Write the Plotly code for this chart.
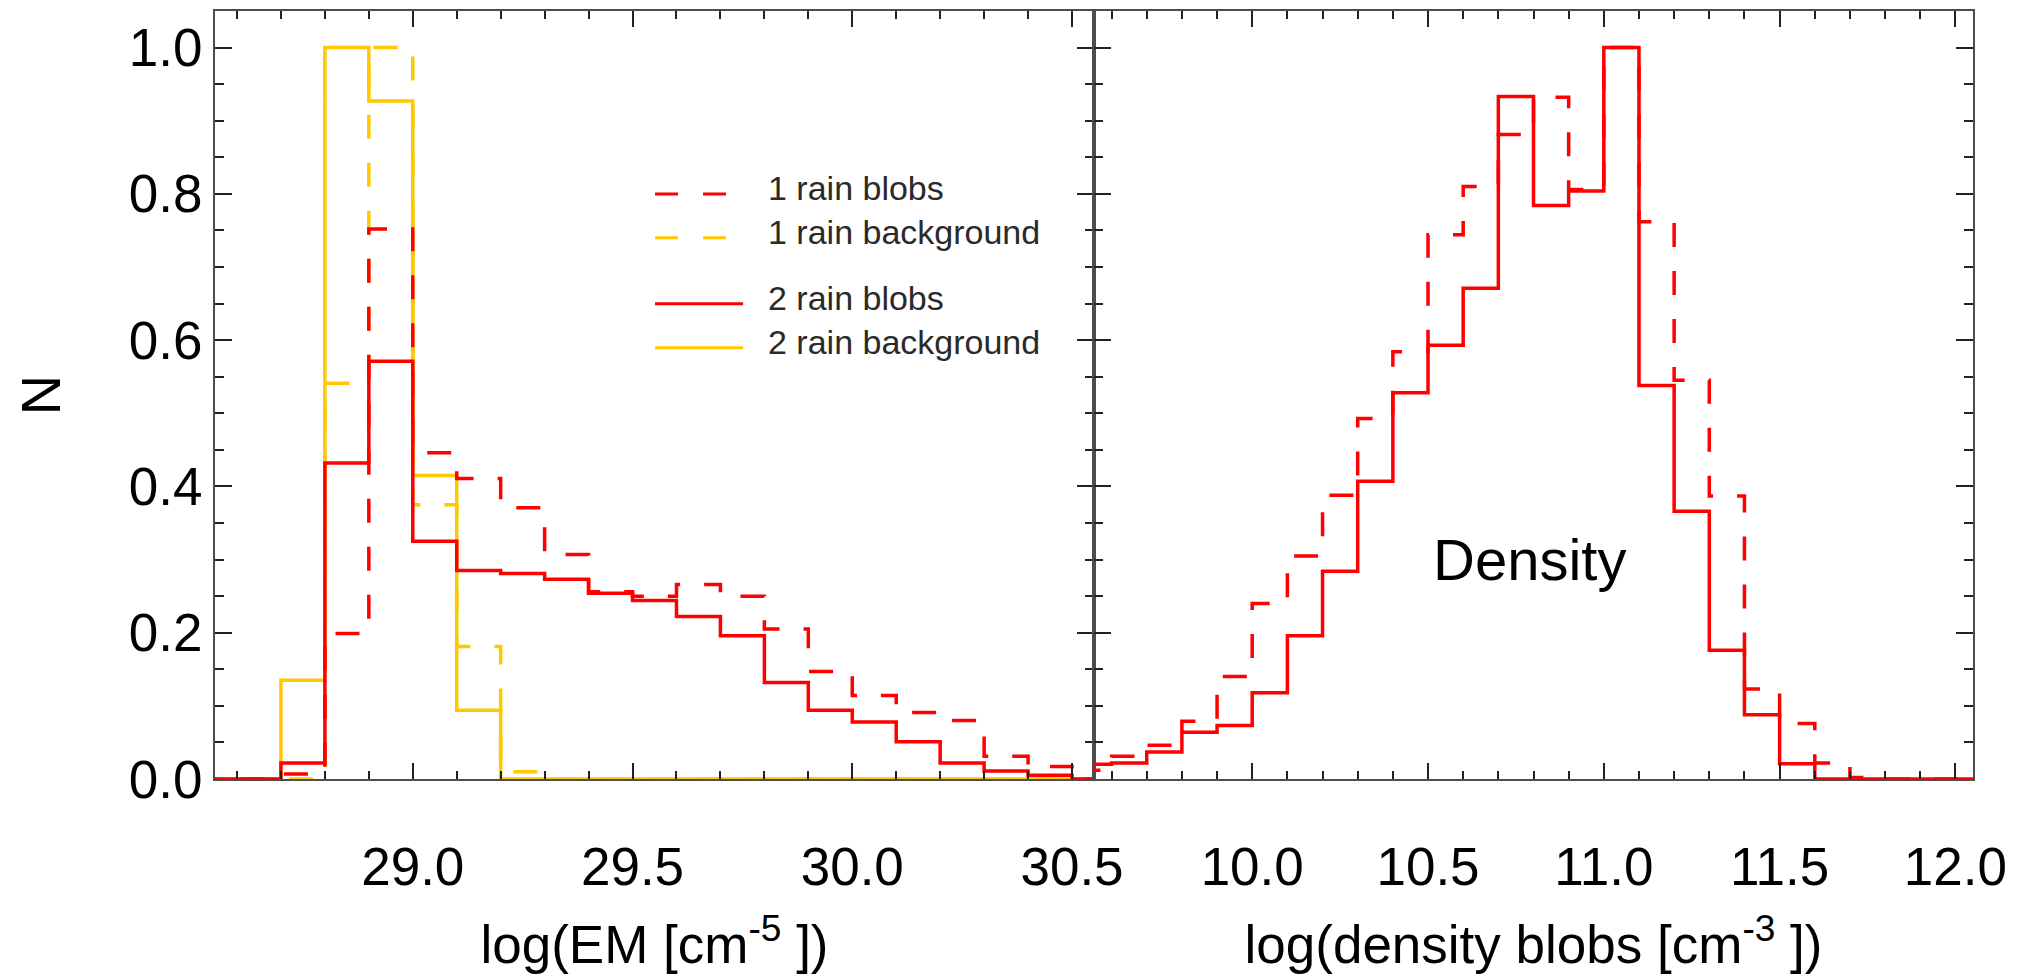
import plotly.graph_objects as go

# ---------------- data ----------------
# left panel: log(EM) histograms, bin edges (0.1 wide)
em_edges = [28.5, 28.6, 28.7, 28.8, 28.9, 29.0, 29.1, 29.2, 29.3, 29.4, 29.5,
            29.6, 29.7, 29.8, 29.9, 30.0, 30.1, 30.2, 30.3, 30.4, 30.5, 30.6]
em_1rain_blobs = [0.0, 0.0, 0.007, 0.199, 0.752, 0.446, 0.411, 0.371, 0.307, 0.256, 0.250,
                  0.266, 0.250, 0.205, 0.147, 0.114, 0.091, 0.080, 0.031, 0.017, 0.0]
em_1rain_bg = [0.0, 0.0, 0.0, 0.541, 1.0, 0.375, 0.181, 0.010, 0.0, 0.0, 0.0,
               0.0, 0.0, 0.0, 0.0, 0.0, 0.0, 0.0, 0.0, 0.0, 0.0]
em_2rain_blobs = [0.0, 0.0, 0.022, 0.432, 0.571, 0.325, 0.285, 0.281, 0.273, 0.254, 0.244,
                  0.222, 0.196, 0.132, 0.094, 0.078, 0.051, 0.022, 0.011, 0.005, 0.0]
em_2rain_bg = [0.0, 0.0, 0.135, 1.0, 0.927, 0.415, 0.094, 0.0, 0.0, 0.0, 0.0,
               0.0, 0.0, 0.0, 0.0, 0.0, 0.0, 0.0, 0.0, 0.0, 0.0]

# right panel: log(density blobs) histograms
dens_edges = [9.5, 9.6, 9.7, 9.8, 9.9, 10.0, 10.1, 10.2, 10.3, 10.4, 10.5, 10.6, 10.7,
              10.8, 10.9, 11.0, 11.1, 11.2, 11.3, 11.4, 11.5, 11.6, 11.7, 11.8, 11.9, 12.0, 12.1]
dens_1rain_blobs = [0.012, 0.031, 0.046, 0.079, 0.140, 0.240, 0.305, 0.388, 0.493, 0.584,
                    0.744, 0.810, 0.881, 0.932, 0.806, 1.0, 0.762, 0.545, 0.387, 0.123,
                    0.076, 0.022, 0.002, 0.0, 0.0, 0.0]
dens_2rain_blobs = [0.020, 0.022, 0.037, 0.064, 0.073, 0.118, 0.196, 0.284, 0.407, 0.528,
                    0.593, 0.671, 0.933, 0.784, 0.804, 1.0, 0.538, 0.366, 0.176, 0.088,
                    0.021, 0.0, 0.0, 0.0, 0.0, 0.0]

labels = ["1 rain blobs", "1 rain background", "2 rain blobs", "2 rain background"]

RED = "#ff0000"
ORANGE = "#ffc800"
LW = 3.5
DASH = "24px,24px"
FONT = "Liberation Sans, Arial, Helvetica, sans-serif"

# legend key styles, in the same order as labels
legend_colors = [RED, ORANGE, RED, ORANGE]
legend_dashes = ["23px,25px", "23px,25px", "solid", "solid"]
# legend row centres in paper fraction (vertical), key/text positions (horizontal)
legend_rows = [0.7618, 0.7046, 0.6187, 0.5615]
legend_key_x = [0.2503, 0.3004]
legend_text_x = 0.3135
legend_text_dy = 0.0075


def step_y(values):
    # last value repeated so the final bin reaches its right edge with shape 'hv'
    return list(values) + [values[-1]]


fig = go.Figure()

# left panel (drawing order: orange below red)
fig.add_trace(go.Scatter(x=em_edges, y=step_y(em_1rain_bg), mode="lines",
                         line=dict(color=ORANGE, width=LW, dash=DASH, shape="hv"),
                         name=labels[1], showlegend=False, xaxis="x", yaxis="y"))
fig.add_trace(go.Scatter(x=em_edges, y=step_y(em_2rain_bg), mode="lines",
                         line=dict(color=ORANGE, width=LW, shape="hv"),
                         name=labels[3], showlegend=False, xaxis="x", yaxis="y"))
fig.add_trace(go.Scatter(x=em_edges, y=step_y(em_1rain_blobs), mode="lines",
                         line=dict(color=RED, width=LW, dash=DASH, shape="hv"),
                         name=labels[0], showlegend=False, xaxis="x", yaxis="y"))
fig.add_trace(go.Scatter(x=em_edges, y=step_y(em_2rain_blobs), mode="lines",
                         line=dict(color=RED, width=LW, shape="hv"),
                         name=labels[2], showlegend=False, xaxis="x", yaxis="y"))

# right panel
fig.add_trace(go.Scatter(x=dens_edges, y=step_y(dens_1rain_blobs), mode="lines",
                         line=dict(color=RED, width=LW, dash=DASH, shape="hv"),
                         name=labels[0], showlegend=False, xaxis="x2", yaxis="y2"))
fig.add_trace(go.Scatter(x=dens_edges, y=step_y(dens_2rain_blobs), mode="lines",
                         line=dict(color=RED, width=LW, shape="hv"),
                         name=labels[2], showlegend=False, xaxis="x2", yaxis="y2"))

# legend drawn as keys + text
shapes = []
annotations = []
for lab, col, dsh, yr in zip(labels, legend_colors, legend_dashes, legend_rows):
    shapes.append(dict(type="line", xref="paper", yref="paper",
                       x0=legend_key_x[0], x1=legend_key_x[1], y0=yr, y1=yr,
                       line=dict(color=col, width=3, dash=dsh)))
    annotations.append(dict(text=lab, xref="paper", yref="paper",
                            x=legend_text_x, y=yr + legend_text_dy,
                            xanchor="left", yanchor="middle", showarrow=False,
                            font=dict(family=FONT, size=34, color="#2a2a2a")))

annotations.append(dict(text="Density", x=10.79, y=0.30, xref="x2", yref="y2",
                        showarrow=False, xanchor="center", yanchor="middle",
                        font=dict(family=FONT, size=58, color="black")))

axis_common = dict(
    showline=True, linecolor="#4d4d4d", linewidth=2, mirror="ticks",
    ticks="inside", tickcolor="#222222", tickwidth=2,
    showgrid=False, zeroline=False,
    tickfont=dict(family=FONT, size=53, color="black"),
)

xcommon = dict(axis_common, ticklen=16, tickformat=".1f", dtick=0.5,
               minor=dict(dtick=0.1, ticks="inside", ticklen=8, tickwidth=2,
                          tickcolor="#222222", showgrid=False),
               ticklabelstandoff=40)
ycommon = dict(axis_common, ticklen=17, tickformat=".1f", dtick=0.2, tick0=0,
               range=[0, 1.05],
               minor=dict(dtick=0.05, ticks="inside", ticklen=9, tickwidth=2,
                          tickcolor="#222222", showgrid=False))

fig.update_layout(
    width=2017, height=974,
    margin=dict(l=215, r=44, t=11, b=195, autoexpand=False),
    paper_bgcolor="white", plot_bgcolor="white",
    font=dict(family=FONT, color="black", size=52),
    showlegend=False,
    xaxis=dict(xcommon, domain=[0, 0.5], range=[28.55, 30.55], tick0=29.0,
               anchor="y",
               title=dict(text="log(EM [cm<sup>-5</sup> ])",
                          font=dict(family=FONT, size=53, color="black"),
                          standoff=34)),
    xaxis2=dict(xcommon, domain=[0.5, 1], range=[9.55, 12.05], tick0=10.0,
                anchor="y2",
                title=dict(text="log(density blobs [cm<sup>-3</sup> ])",
                           font=dict(family=FONT, size=53, color="black"),
                           standoff=34)),
    yaxis=dict(ycommon, anchor="x", domain=[0, 1], ticklabelstandoff=0,
               title=dict(text="N", font=dict(family=FONT, size=56, color="black"),
                          standoff=50)),
    yaxis2=dict(ycommon, anchor="x2", domain=[0, 1], showticklabels=False),
    shapes=shapes,
    annotations=annotations,
)

fig.write_html("out.html")
